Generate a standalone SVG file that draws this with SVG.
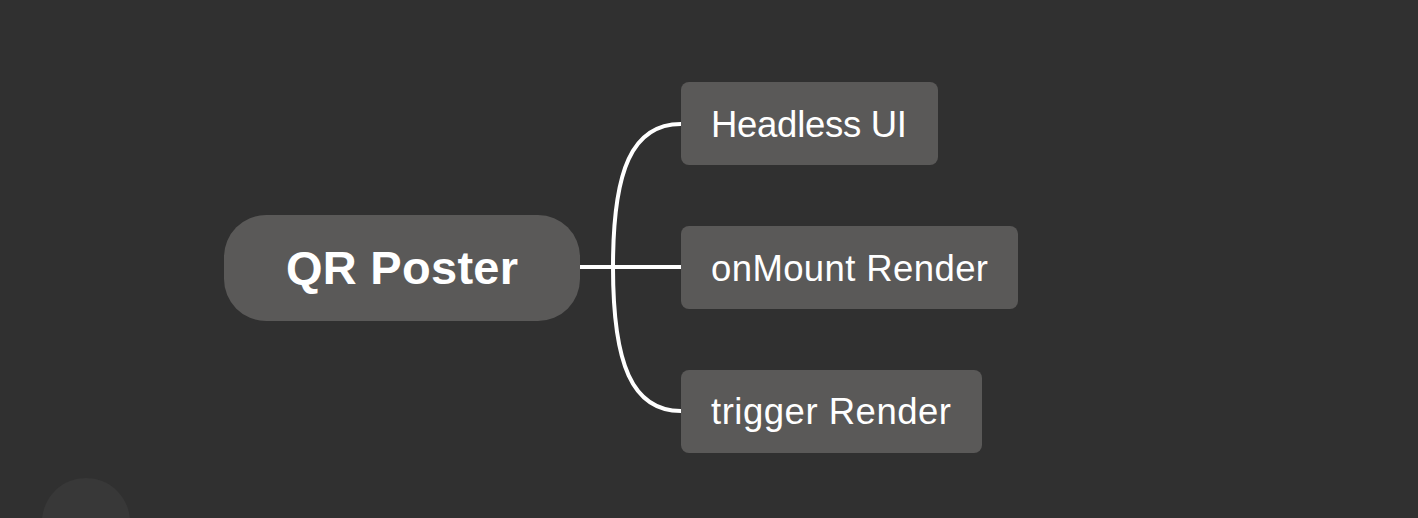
<svg xmlns="http://www.w3.org/2000/svg" width="1418" height="518" viewBox="0 0 1418 518">
<style>
.node rect{fill:#5a5958}
.lbl{fill:#ffffff;font-family:"Liberation Sans",Arial,sans-serif;font-size:36.5px}
.root{font-size:47px;font-weight:bold}
.conn{fill:none;stroke:#ffffff;stroke-width:4}
</style>
<rect width="1418" height="518" fill="#303030"/>
<circle cx="86" cy="522" r="44" fill="#383838"/>
<g id="connectors">
<path class="conn" d="M580,267 H681"/>
<path class="conn" d="M681,124 C632,124 613,170 613,267 C613,364 632,411 681,411"/>
</g>
<g id="root" class="node">
<rect x="224" y="215" width="356" height="106" rx="42"/>
<text class="lbl root" x="402" y="284" text-anchor="middle" textLength="232">QR Poster</text>
</g>
<g id="headless" class="node">
<rect x="681" y="82" width="257" height="83" rx="8"/>
<text class="lbl" x="711" y="137" textLength="196">Headless UI</text>
</g>
<g id="onmount" class="node">
<rect x="681" y="226" width="337" height="83" rx="8"/>
<text class="lbl" x="711" y="281" textLength="277">onMount Render</text>
</g>
<g id="trigger" class="node">
<rect x="681" y="370" width="301" height="83" rx="8"/>
<text class="lbl" x="711" y="424" textLength="240">trigger Render</text>
</g>
</svg>
